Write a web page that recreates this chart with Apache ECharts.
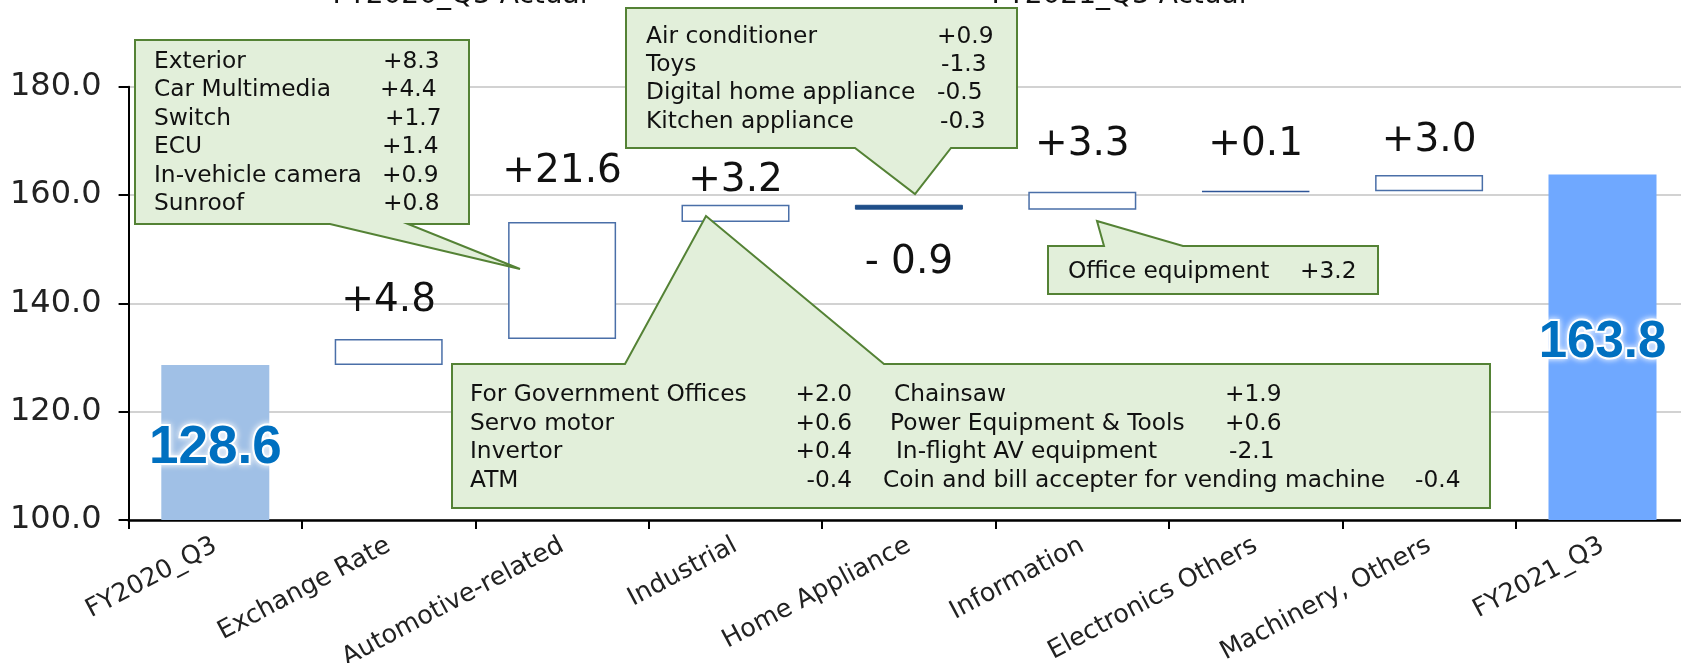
<!DOCTYPE html>
<html>
<head>
<meta charset="utf-8">
<script src="https://cdn.jsdelivr.net/npm/echarts@6/dist/echarts.min.js"></script>
<style>
  html, body { margin: 0; background: #fff; }
  #main { width: 1681px; height: 663px; }
</style>
</head>
<body>
<div id="main"></div>
<script>
var categories = ['FY2020_Q3', 'Exchange Rate', 'Automotive-related', 'Industrial', 'Home Appliance',
  'Information', 'Electronics Others', 'Machinery, Others', 'FY2021_Q3'];
var startValue = 128.6;
var changes = [4.8, 21.6, 3.2, -0.9, 3.3, 0.1, 3.0];
var endValue = 163.8;
var changeLabels = ['+4.8', '+21.6', '+3.2', '- 0.9', '+3.3', '+0.1', '+3.0'];
var topTitles = ['FY2020_Q3 Actual', 'FY2021_Q3 Actual'];

// breakdown callouts
var autoDetails = [['Exterior', '+8.3'], ['Car Multimedia', '+4.4'], ['Switch', '+1.7'],
  ['ECU', '+1.4'], ['In-vehicle camera', '+0.9'], ['Sunroof', '+0.8']];
var homeDetails = [['Air conditioner', '+0.9'], ['Toys', '-1.3'],
  ['Digital home appliance', '-0.5'], ['Kitchen appliance', '-0.3']];
var infoDetails = [['Office equipment', '+3.2']];
var industrialDetails = [['For Government Offices', '+2.0'], ['Servo motor', '+0.6'],
  ['Invertor', '+0.4'], ['ATM', '-0.4']];
var machineryDetails = [['Chainsaw', '+1.9'], ['Power Equipment & Tools', '+0.6'],
  ['In-flight AV equipment', '-2.1'], ['Coin and bill accepter for vending machine', '-0.4']];

var myChart = echarts.init(document.getElementById('main'));

// waterfall: invisible base + visible part
var baseData = [0];
var barData = [];
var run = startValue;
var labelGap = [19, 31, 4, 34, 27, 26, 15];

var totalLabel = {
  show: true,
  position: 'inside',
  fontFamily: 'Liberation Sans',
  fontWeight: 'bold',
  fontSize: 53,
  color: '#0070c0',
  textBorderColor: '#fff',
  textBorderWidth: 4,
  textShadowColor: 'rgba(255,255,255,0.9)',
  textShadowBlur: 6
};

barData.push({
  value: startValue, itemStyle: { color: '#a0c0e6' },
  label: Object.assign({}, totalLabel, { offset: [0, 6] })
});
changes.forEach(function (c, i) {
  var lo = c >= 0 ? run : run + c;
  baseData.push(+lo.toFixed(1));
  var item = {
    value: Math.abs(c),
    itemStyle: c >= 0
      ? { color: '#fff', borderColor: '#4a6fa8', borderWidth: 1.5 }
      : { color: '#1f4e89', borderColor: '#1f4e89', borderWidth: 1 },
    label: {
      show: true,
      position: c >= 0 ? 'top' : 'bottom',
      distance: labelGap[i],
      formatter: changeLabels[i],
      fontFamily: 'DejaVu Sans',
      fontSize: 39,
      color: '#111'
    }
  };
  if (Math.abs(c) < 0.5) {
    item.itemStyle = { color: '#2f5597', borderColor: '#2f5597', borderWidth: 1.5 };
  }
  barData.push(item);
  run += c;
});
baseData.push(0);
barData.push({
  value: endValue, itemStyle: { color: '#6fa8ff' },
  label: Object.assign({}, totalLabel, { fontSize: 51, offset: [0, -4] })
});

// callout helpers
var calloutFill = '#e2efda';
var calloutStroke = '#548235';
var els = [];
function bubble(points) {
  els.push({
    type: 'polygon', z: 100,
    shape: { points: points },
    style: { fill: calloutFill, stroke: calloutStroke, lineWidth: 2 }
  });
}
function txt(s, x, y, align, size) {
  els.push({
    type: 'text', z: 101, x: x, y: y,
    style: {
      text: s, fill: '#111', fontFamily: 'DejaVu Sans', fontSize: size || 23.3,
      align: align || 'left', verticalAlign: 'middle'
    }
  });
}

bubble([[135, 40], [469, 40], [469, 224], [408, 224], [520, 269], [330, 224], [135, 224]]);
var autoY = [62, 90, 119, 147, 176, 204];
var autoVx = [383, 380, 385, 382, 382, 383];
autoDetails.forEach(function (d, i) { txt(d[0], 154, autoY[i]); txt(d[1], autoVx[i], autoY[i]); });

bubble([[626, 8], [1017, 8], [1017, 148], [951, 148], [915, 194], [855, 148], [626, 148]]);
var homeY = [37, 65, 93, 122];
var homeVx = [937, 941, 937, 940];
homeDetails.forEach(function (d, i) { txt(d[0], 646, homeY[i]); txt(d[1], homeVx[i], homeY[i]); });

bubble([[1048, 246], [1104, 246], [1097, 221], [1183, 246], [1378, 246], [1378, 294], [1048, 294]]);
txt(infoDetails[0][0], 1068, 272);
txt(infoDetails[0][1], 1300, 272);

bubble([[452, 364], [625, 364], [706, 216], [884, 364], [1490, 364], [1490, 508], [452, 508]]);
var indY = [395, 424, 452, 481];
var machNx = [894, 890, 896, 883];
var machVx = [1225, 1225, 1229, 1415];
industrialDetails.forEach(function (d, i) { txt(d[0], 470, indY[i]); txt(d[1], 852, indY[i], 'right'); });
machineryDetails.forEach(function (d, i) { txt(d[0], machNx[i], indY[i]); txt(d[1], machVx[i], indY[i]); });

// cut-off headings at the very top
txt(topTitles[0], 460, -4, 'center', 28);
txt(topTitles[1], 1119, -4, 'center', 28);

var option = {
  animation: false,
  grid: { left: 128.6, right: -8.2, top: 86.7, bottom: 143, outerBoundsMode: 'none' },
  xAxis: {
    type: 'category',
    data: categories,
    axisLine: { lineStyle: { color: '#000', width: 2.5 } },
    axisTick: { show: true, length: 9, interval: 0, lineStyle: { color: '#000', width: 2 } },
    axisLabel: {
      interval: 0, rotate: 28, margin: 24,
      fontFamily: 'DejaVu Sans', fontSize: 25.5, color: '#222'
    }
  },
  yAxis: {
    type: 'value',
    min: 100, max: 180, interval: 20,
    axisLine: { show: true, lineStyle: { color: '#000', width: 2 } },
    axisTick: { show: true, length: 10, lineStyle: { color: '#000', width: 2 } },
    axisLabel: {
      margin: 27, fontFamily: 'DejaVu Sans', fontSize: 32, color: '#222',
      formatter: function (v) { return v.toFixed(1); }
    },
    splitLine: { lineStyle: { color: '#d2d2d2', width: 2 } }
  },
  series: [
    {
      type: 'bar', stack: 'w', barWidth: 108, silent: true,
      itemStyle: { color: 'transparent' },
      data: baseData
    },
    {
      type: 'bar', stack: 'w', barWidth: 108,
      data: barData
    }
  ],
  graphic: { elements: els }
};

myChart.setOption(option);
</script>
</body>
</html>
